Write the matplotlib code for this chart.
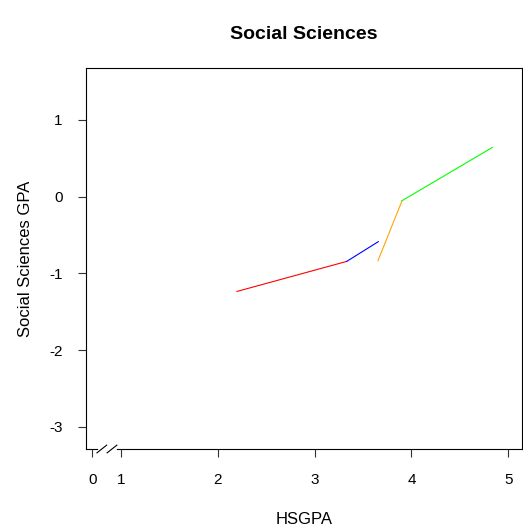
import matplotlib.pyplot as plt

plt.rcParams['font.family'] = ['Liberation Sans', 'DejaVu Sans']
plt.rcParams['axes.unicode_minus'] = False

# fitted segments: (x start, x end), (y start, y end)
seg_x = [[2.20, 3.332], [3.332, 3.658], [3.655, 3.903], [3.903, 4.835]]
seg_y = [[-1.234, -0.843], [-0.843, -0.586], [-0.834, -0.052], [-0.052, 0.642]]
seg_colors = ['red', 'blue', 'orange', '#00ff00']

x_ticks = [0.707, 1, 2, 3, 4, 5]
x_tick_labels = ['0', '1', '2', '3', '4', '5']
y_ticks = [-3, -2, -1, 0, 1]

fig = plt.figure(figsize=(5.23, 5.29), dpi=100)
ax = fig.add_axes([86 / 523, 1 - 449 / 529, 436 / 523, 381 / 529])

for xs, ys, c in zip(seg_x, seg_y, seg_colors):
    ax.plot(xs, ys, color=c, linewidth=0.8)

ax.set_xlim(0.642, 5.141)
ax.set_ylim(-3.287, 1.677)
ax.set_xticks(x_ticks)
ax.set_xticklabels(x_tick_labels)
ax.set_yticks(y_ticks)
ax.tick_params(length=6, width=0.8, pad=11, labelsize=11, color='#333333')
for s in ax.spines.values():
    s.set_linewidth(0.8)

# axis break between 0 and 1
ax.plot([0.78, 0.94], [-3.287, -3.287], color='white', linewidth=2,
        clip_on=False, zorder=5)
for xc in [0.805, 0.91]:
    ax.plot([xc - 0.05, xc + 0.05], [-3.287 - 0.05, -3.287 + 0.05],
            color='black', linewidth=0.8, clip_on=False, zorder=6)

ax.set_title('Social Sciences', fontsize=14, fontweight='bold', pad=21)
ax.set_xlabel('HSGPA', fontsize=12, labelpad=18.5)
ax.set_ylabel('Social Sciences GPA', fontsize=12, labelpad=11.5)

fig.savefig('out.png', dpi=100)
